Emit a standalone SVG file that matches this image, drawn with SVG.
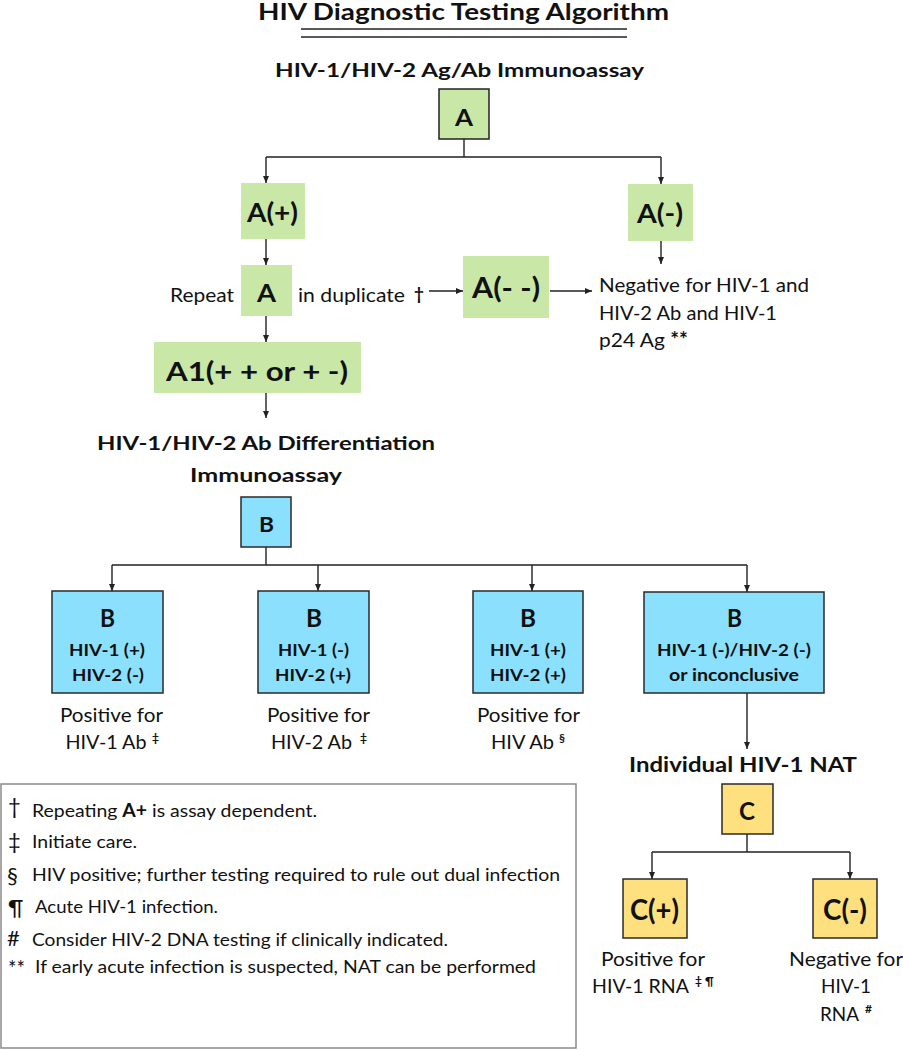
<svg xmlns="http://www.w3.org/2000/svg" width="903" height="1050" viewBox="0 0 903 1050">
<style>
text{font-family:Lato,"Open Sans","Liberation Sans",sans-serif;fill:#111}
.b{font-weight:700}
.t{font-size:20px}
.lg{font-size:18px}
.sym{font-size:22px}
.sup{font-size:12px;font-weight:700}
.green{fill:#C9E7A7}
.gbord{fill:#C9E7A7;stroke:#222;stroke-width:1.5}
.blue{fill:#8BE0FE;stroke:#2a2a2a;stroke-width:1.5}
.yel{fill:#FFE07F;stroke:#2a2a2a;stroke-width:1.5}
.ln{fill:none;stroke:#222;stroke-width:1.4}
.ar{fill:none;stroke:#222;stroke-width:1.4;marker-end:url(#ah)}
</style>
<defs>
<marker id="ah" markerWidth="8" markerHeight="8" refX="7" refY="4" orient="auto" markerUnits="userSpaceOnUse">
<path d="M0,1 L7,4 L0,7 z" fill="#222"/>
</marker>
</defs>
<rect width="903" height="1050" fill="#fff"/>

<g id="title">
<text class="b" x="258" y="20" font-size="22" textLength="411" lengthAdjust="spacingAndGlyphs">HIV Diagnostic Testing Algorithm</text>
<line x1="301" y1="29" x2="627" y2="29" stroke="#222" stroke-width="1.4"/>
<line x1="301" y1="37" x2="627" y2="37" stroke="#222" stroke-width="1.4"/>
</g>

<g id="connectors">
<path class="ln" d="M464,139 V157 M266,157 H661"/>
<path class="ar" d="M266,157 V183"/>
<path class="ar" d="M661,157 V184"/>
<path class="ar" d="M266,239 V265"/>
<path class="ar" d="M266,316 V342"/>
<path class="ar" d="M429,291 H463"/>
<path class="ar" d="M550,291 H592"/>
<path class="ar" d="M661,241 V264"/>
<path class="ar" d="M266,393 V418"/>
<path class="ln" d="M266,547 V565 M112,565 H747"/>
<path class="ar" d="M112,565 V591"/>
<path class="ar" d="M318,565 V591"/>
<path class="ar" d="M532,565 V591"/>
<path class="ar" d="M747,565 V592"/>
<path class="ar" d="M747,693 V749"/>
<path class="ln" d="M747,834 V852 M652,852 H850"/>
<path class="ar" d="M652,852 V879"/>
<path class="ar" d="M850,852 V879"/>
</g>

<g id="nodeA">
<text class="b" x="275" y="77" font-size="19.5" textLength="369" lengthAdjust="spacingAndGlyphs">HIV-1/HIV-2 Ag/Ab Immunoassay</text>
<rect class="gbord" x="439" y="89" width="50" height="50"/>
<text class="b" x="455" y="126" font-size="22" textLength="18" lengthAdjust="spacingAndGlyphs">A</text>
</g>

<g id="nodeAplus">
<rect class="green" x="241" y="183" width="64" height="56"/>
<text class="b" x="247" y="222" font-size="26.5" textLength="51" lengthAdjust="spacingAndGlyphs">A(+)</text>
</g>

<g id="nodeAminus">
<rect class="green" x="628" y="184" width="65" height="57"/>
<text class="b" x="637" y="223" font-size="27" textLength="46" lengthAdjust="spacingAndGlyphs">A(-)</text>
</g>

<g id="nodeRepeat">
<text class="t" x="170" y="302" textLength="64" lengthAdjust="spacingAndGlyphs">Repeat</text>
<rect class="green" x="241" y="265" width="51" height="51"/>
<text class="b" x="257" y="302" font-size="24" textLength="19" lengthAdjust="spacingAndGlyphs">A</text>
<text class="t" x="298" y="302" textLength="107" lengthAdjust="spacingAndGlyphs">in duplicate</text>
<text class="b" x="414" y="300" font-size="17">†</text>
</g>

<g id="nodeAmm">
<rect class="green" x="463" y="256" width="86" height="62"/>
<text class="b" x="472" y="298" font-size="28" textLength="68" lengthAdjust="spacingAndGlyphs">A(- -)</text>
</g>

<g id="nodeNegative">
<text class="t" x="599" y="292" textLength="210" lengthAdjust="spacingAndGlyphs">Negative for HIV-1 and</text>
<text class="t" x="599" y="320" textLength="178" lengthAdjust="spacingAndGlyphs">HIV-2 Ab and HIV-1</text>
<text class="t" x="599" y="347" textLength="89" lengthAdjust="spacingAndGlyphs">p24 Ag <tspan class="b">**</tspan></text>
</g>

<g id="nodeA1">
<rect class="green" x="154" y="342" width="207" height="51"/>
<text class="b" x="166" y="381" font-size="27" textLength="182" lengthAdjust="spacingAndGlyphs">A1(+ + or + -)</text>
</g>

<g id="nodeB">
<text class="b" x="97" y="450" font-size="19.5" textLength="338" lengthAdjust="spacingAndGlyphs">HIV-1/HIV-2 Ab Differentiation</text>
<text class="b" x="190" y="482" font-size="19.5" textLength="152" lengthAdjust="spacingAndGlyphs">Immunoassay</text>
<rect class="blue" x="241" y="497" width="50" height="50"/>
<text class="b" x="259" y="532" font-size="21" textLength="15" lengthAdjust="spacingAndGlyphs">B</text>
</g>

<g id="nodeB1">
<rect class="blue" x="52" y="591" width="111" height="102"/>
<text class="b" x="100" y="627" font-size="25" textLength="15" lengthAdjust="spacingAndGlyphs">B</text>
<text class="b" x="69" y="656" font-size="17.7" textLength="76" lengthAdjust="spacingAndGlyphs">HIV-1 (+)</text>
<text class="b" x="72" y="681" font-size="17.7" textLength="72" lengthAdjust="spacingAndGlyphs">HIV-2 (-)</text>
<text class="t" x="60" y="722" textLength="103" lengthAdjust="spacingAndGlyphs">Positive for</text>
<text class="t" x="65.5" y="749" textLength="81" lengthAdjust="spacingAndGlyphs">HIV-1 Ab</text>
<text class="sup" x="152" y="742">‡</text>
</g>

<g id="nodeB2">
<rect class="blue" x="258" y="591" width="111" height="102"/>
<text class="b" x="306" y="627" font-size="25" textLength="16" lengthAdjust="spacingAndGlyphs">B</text>
<text class="b" x="278" y="656" font-size="17.7" textLength="71" lengthAdjust="spacingAndGlyphs">HIV-1 (-)</text>
<text class="b" x="275" y="681" font-size="17.7" textLength="76" lengthAdjust="spacingAndGlyphs">HIV-2 (+)</text>
<text class="t" x="267" y="722" textLength="103" lengthAdjust="spacingAndGlyphs">Positive for</text>
<text class="t" x="271" y="749" textLength="81" lengthAdjust="spacingAndGlyphs">HIV-2 Ab</text>
<text class="sup" x="360" y="742">‡</text>
</g>

<g id="nodeB3">
<rect class="blue" x="473" y="591" width="110" height="102"/>
<text class="b" x="520" y="627" font-size="25" textLength="16" lengthAdjust="spacingAndGlyphs">B</text>
<text class="b" x="490" y="656" font-size="17.7" textLength="76" lengthAdjust="spacingAndGlyphs">HIV-1 (+)</text>
<text class="b" x="490" y="681" font-size="17.7" textLength="76" lengthAdjust="spacingAndGlyphs">HIV-2 (+)</text>
<text class="t" x="477" y="722" textLength="103" lengthAdjust="spacingAndGlyphs">Positive for</text>
<text class="t" x="491" y="749" textLength="63" lengthAdjust="spacingAndGlyphs">HIV Ab</text>
<text class="sup" x="559" y="742">§</text>
</g>

<g id="nodeB4">
<rect class="blue" x="644" y="592" width="180" height="101"/>
<text class="b" x="727" y="627" font-size="25" textLength="15" lengthAdjust="spacingAndGlyphs">B</text>
<text class="b" x="657" y="656" font-size="17.7" textLength="154" lengthAdjust="spacingAndGlyphs">HIV-1 (-)/HIV-2 (-)</text>
<text class="b" x="669" y="681" font-size="17.7" textLength="130" lengthAdjust="spacingAndGlyphs">or inconclusive</text>
</g>

<g id="nodeC">
<text class="b" x="629" y="772" font-size="21" textLength="228" lengthAdjust="spacingAndGlyphs">Individual HIV-1 NAT</text>
<rect class="yel" x="722" y="784" width="51" height="50"/>
<text class="b" x="739" y="820" font-size="25" textLength="16" lengthAdjust="spacingAndGlyphs">C</text>
</g>

<g id="nodeCplus">
<rect class="yel" x="623" y="879" width="64" height="59"/>
<text class="b" x="630" y="920" font-size="28" textLength="49" lengthAdjust="spacingAndGlyphs">C(+)</text>
<text class="t" x="601" y="966" textLength="104" lengthAdjust="spacingAndGlyphs">Positive for</text>
<text class="t" x="592" y="993" textLength="97" lengthAdjust="spacingAndGlyphs">HIV-1 RNA</text>
<text class="sup" x="695" y="985">‡</text>
<text class="sup" x="705" y="985">¶</text>
</g>

<g id="nodeCminus">
<rect class="yel" x="813" y="879" width="64" height="59"/>
<text class="b" x="823" y="920" font-size="28" textLength="44" lengthAdjust="spacingAndGlyphs">C(-)</text>
<text class="t" x="789" y="966" textLength="114" lengthAdjust="spacingAndGlyphs">Negative for</text>
<text class="t" x="821" y="993" textLength="50" lengthAdjust="spacingAndGlyphs">HIV-1</text>
<text class="t" x="820" y="1021" textLength="39" lengthAdjust="spacingAndGlyphs">RNA</text>
<text class="sup" x="865" y="1013">#</text>
</g>

<g id="legend">
<rect x="1" y="784" width="575" height="264" fill="#fff" stroke="#8a8a8a" stroke-width="1.5"/>
<text class="sym" x="8" y="814">†</text>
<text class="lg" x="32" y="817" textLength="285" lengthAdjust="spacingAndGlyphs">Repeating <tspan class="b">A+</tspan> is assay dependent.</text>
<text class="sym" x="8" y="849">‡</text>
<text class="lg" x="32" y="848" textLength="105" lengthAdjust="spacingAndGlyphs">Initiate care.</text>
<text class="sym" x="7" y="883">§</text>
<text class="lg" x="32" y="881" textLength="528" lengthAdjust="spacingAndGlyphs">HIV positive; further testing required to rule out dual infection</text>
<text class="sym" x="8" y="915">¶</text>
<text class="lg" x="35" y="913" textLength="183" lengthAdjust="spacingAndGlyphs">Acute HIV-1 infection.</text>
<text class="sym" x="7" y="946">#</text>
<text class="lg" x="32" y="946" textLength="416" lengthAdjust="spacingAndGlyphs">Consider HIV-2 DNA testing if clinically indicated.</text>
<text x="8" y="976" font-size="21" textLength="17" lengthAdjust="spacingAndGlyphs">**</text>
<text class="lg" x="35" y="973" textLength="501" lengthAdjust="spacingAndGlyphs">If early acute infection is suspected, NAT can be performed</text>
</g>
</svg>
